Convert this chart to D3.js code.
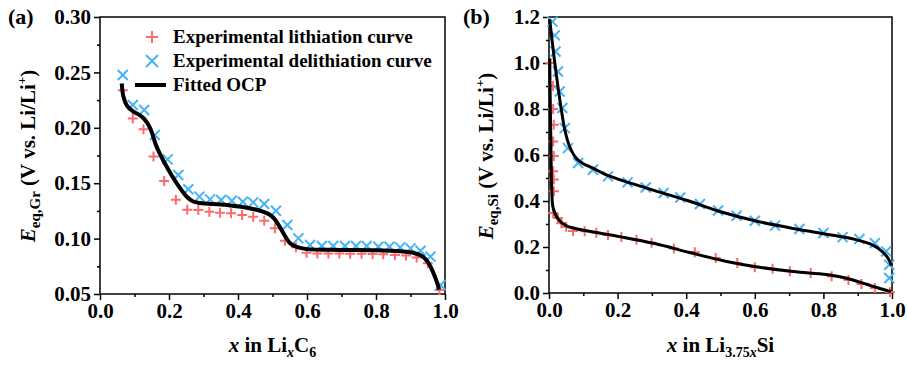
<!DOCTYPE html>
<html>
<head>
<meta charset="utf-8">
<script src="https://cdn.jsdelivr.net/npm/d3@7"></script>
<style>
  body { margin: 0; background: #fff; }
  svg { font-family: "Liberation Serif", "Times New Roman", serif; font-weight: bold; }
</style>
</head>
<body>
<svg id="chart" width="907" height="368"></svg>
<script>
// ---- panel (a): graphite ----
const grLith = [
  [0.066,0.234],[0.095,0.2085],[0.126,0.1986],[0.155,0.174],[0.186,0.152],[0.220,0.135],
  [0.253,0.126],[0.285,0.1258],[0.317,0.1243],[0.348,0.1234],[0.380,0.1228],[0.412,0.1213],
  [0.444,0.1198],[0.476,0.1162],[0.507,0.1093],[0.536,0.0981],[0.568,0.0921],[0.599,0.0873],
  [0.630,0.0866],[0.662,0.0866],[0.694,0.0866],[0.725,0.0864],[0.758,0.0864],[0.790,0.0862],
  [0.821,0.0858],[0.855,0.0852],[0.887,0.0848],[0.918,0.0830],[0.950,0.0777],[0.984,0.0536]
];
const grDelith = [
  [0.066,0.2477],[0.095,0.2206],[0.128,0.2161],[0.159,0.1935],[0.196,0.1715],[0.227,0.1574],
  [0.256,0.1445],[0.288,0.1379],[0.319,0.1354],[0.351,0.1348],[0.382,0.1342],[0.414,0.1333],
  [0.444,0.1327],[0.476,0.1312],[0.510,0.1252],[0.543,0.1123],[0.575,0.1002],[0.609,0.0942],
  [0.643,0.0933],[0.676,0.0933],[0.710,0.0933],[0.742,0.0933],[0.773,0.0933],[0.807,0.0927],
  [0.839,0.0927],[0.870,0.0921],[0.900,0.0912],[0.929,0.0891],[0.958,0.0837],[0.987,0.0581]
];
const grFit = [
  [0.063,0.240],[0.068,0.228],[0.078,0.220],[0.097,0.2145],[0.115,0.2115],[0.128,0.208],
  [0.145,0.200],[0.164,0.183],[0.193,0.165],[0.222,0.150],[0.251,0.138],[0.27,0.1335],
  [0.29,0.1322],[0.367,0.1303],[0.44,0.127],[0.47,0.1245],[0.49,0.122],[0.505,0.118],
  [0.52,0.111],[0.535,0.103],[0.55,0.096],[0.57,0.0925],[0.6,0.0905],[0.7,0.0898],
  [0.8,0.0895],[0.87,0.0885],[0.91,0.087],[0.935,0.084],[0.952,0.078],[0.965,0.070],
  [0.975,0.062],[0.983,0.054]
];
const grYTicks = [0.05, 0.10, 0.15, 0.20, 0.25, 0.30];
const grYMinor = [0.075, 0.125, 0.175, 0.225, 0.275];

// ---- panel (b): silicon ----
const siLith = [
  [0.004,1.0],[0.012,0.9],[0.012,0.8],[0.014,0.732],[0.012,0.659],[0.014,0.596],[0.012,0.529],
  [0.014,0.493],[0.014,0.442],[0.012,0.348],[0.026,0.326],[0.036,0.303],[0.05,0.288],
  [0.07,0.27],[0.104,0.268],[0.138,0.262],[0.172,0.252],[0.211,0.243],[0.255,0.232],
  [0.299,0.219],[0.364,0.194],[0.425,0.177],[0.486,0.152],[0.549,0.130],[0.600,0.112],
  [0.652,0.105],[0.702,0.095],[0.763,0.087],[0.824,0.073],[0.873,0.056],[0.911,0.039],
  [0.950,0.022],[0.994,0.003]
];
const siDelith = [
  [0.010,1.18],[0.017,1.12],[0.019,1.05],[0.026,0.963],[0.031,0.876],[0.039,0.804],
  [0.046,0.717],[0.055,0.63],[0.085,0.565],[0.128,0.536],[0.172,0.507],[0.229,0.481],
  [0.282,0.459],[0.334,0.435],[0.383,0.415],[0.44,0.387],[0.493,0.359],[0.547,0.336],
  [0.600,0.314],[0.659,0.293],[0.73,0.278],[0.80,0.261],[0.856,0.243],[0.905,0.235],
  [0.95,0.217],[0.983,0.181],[0.992,0.123],[0.992,0.065]
];
const siFitDelith = [
  [0.002,1.19],[0.012,1.06],[0.022,0.942],[0.036,0.797],[0.046,0.71],[0.06,0.637],
  [0.08,0.585],[0.10,0.562],[0.128,0.543],[0.162,0.517],[0.206,0.493],[0.25,0.472],
  [0.308,0.445],[0.406,0.401],[0.503,0.352],[0.6,0.314],[0.697,0.285],[0.795,0.259],
  [0.892,0.233],[0.941,0.210],[0.97,0.182],[0.989,0.150],[0.998,0.12]
];
const siFitLith = [
  [0.002,1.02],[0.004,0.8],[0.006,0.6],[0.008,0.45],[0.012,0.37],[0.026,0.322],
  [0.051,0.292],[0.09,0.276],[0.150,0.260],[0.206,0.245],[0.308,0.215],[0.41,0.176],
  [0.518,0.137],[0.6,0.115],[0.712,0.093],[0.809,0.080],[0.868,0.064],[0.926,0.038],
  [0.96,0.022],[0.997,0.006]
];
const siYTicks = [0.0, 0.2, 0.4, 0.6, 0.8, 1.0, 1.2];
const siYMinor = [0.1, 0.3, 0.5, 0.7, 0.9, 1.1];

const xTicks = [0.0, 0.2, 0.4, 0.6, 0.8, 1.0];
const xMinor = [0.1, 0.3, 0.5, 0.7, 0.9];

const legendLabels = ['Experimental lithiation curve', 'Experimental delithiation curve', 'Fitted OCP'];

const red = '#fb6b6b', blue = '#45b4f4';
const svg = d3.select('#chart');

function plus(g, x, y, s, c) {
  g.append('path').attr('d', `M${x - s},${y}H${x + s}M${x},${y - s}V${y + s}`)
    .attr('stroke', c).attr('stroke-width', 2).attr('fill', 'none');
}
function cross(g, x, y, s, c) {
  g.append('path').attr('d', `M${x - s},${y - s}L${x + s},${y + s}M${x - s},${y + s}L${x + s},${y - s}`)
    .attr('stroke', c).attr('stroke-width', 2).attr('fill', 'none');
}

function panel(p) {
  const x = d3.scaleLinear().domain([0, 1]).range([p.left, p.right]);
  const y = d3.scaleLinear().domain(p.yDomain).range([p.bottom, p.top]);
  const g = svg.append('g');

  // axes
  const ax = (gen) => g.append('g').call(gen).call(s => s.select('.domain').remove());
  ax(d3.axisBottom(x).tickValues(xTicks).tickSize(6).tickPadding(3).tickFormat(d3.format('.1f')))
    .attr('transform', `translate(0,${p.bottom})`);
  ax(d3.axisBottom(x).tickValues(xMinor).tickSize(3).tickFormat(''))
    .attr('transform', `translate(0,${p.bottom})`);
  ax(d3.axisLeft(y).tickValues(p.yTicks).tickSize(6).tickPadding(3).tickFormat(d3.format(p.fmt)))
    .attr('transform', `translate(${p.left},0)`);
  ax(d3.axisLeft(y).tickValues(p.yMinor).tickSize(3).tickFormat(''))
    .attr('transform', `translate(${p.left},0)`);
  g.selectAll('.tick line').attr('stroke', '#000').attr('stroke-width', 1.5);
  g.selectAll('.tick text').attr('font-family', '"Liberation Serif", serif')
    .attr('font-weight', 'bold').attr('font-size', 21).attr('fill', '#000');

  g.append('rect').attr('x', p.left).attr('y', p.top)
    .attr('width', p.right - p.left).attr('height', p.bottom - p.top)
    .attr('fill', 'none').attr('stroke', '#000').attr('stroke-width', 1.5);

  // markers
  const mk = g.append('g');
  p.lith.forEach(d => plus(mk, x(d[0]), y(d[1]), 5, red));
  p.delith.forEach(d => cross(mk, x(d[0]), y(d[1]), 5, blue));

  const line = d3.line().x(d => x(d[0])).y(d => y(d[1])).curve(d3.curveCatmullRom.alpha(0.5));
  p.fits.forEach(f => g.append('path').datum(f).attr('d', line)
    .attr('fill', 'none').attr('stroke', '#000').attr('stroke-width', p.lw));

  // panel tag
  g.append('text').attr('x', p.tagX).attr('y', 24).attr('font-size', 22).text(p.tag);

  // y title
  const yt = g.append('text').attr('transform', `translate(${p.yTitleX},156) rotate(-90)`)
    .attr('text-anchor', 'middle').attr('font-size', 21);
  yt.append('tspan').attr('font-style', 'italic').text('E');
  yt.append('tspan').attr('font-size', 15).attr('dy', 5).text(p.sub);
  yt.append('tspan').attr('dy', -5).text(' (V vs. Li/Li');
  yt.append('tspan').attr('font-size', 13).attr('dy', -9).text('+');
  yt.append('tspan').attr('dy', 9).text(')');

  // x title
  const xt = g.append('text').attr('x', (p.left + p.right) / 2).attr('y', 352)
    .attr('text-anchor', 'middle').attr('font-size', 21);
  xt.append('tspan').attr('font-style', 'italic').text('x');
  xt.append('tspan').text(' in Li');
  p.xSub(xt);
  return { x, y, g };
}

panel({
  left: 100, right: 445, top: 17, bottom: 294, yDomain: [0.05, 0.30],
  yTicks: grYTicks, yMinor: grYMinor, fmt: '.2f',
  lith: grLith, delith: grDelith, fits: [grFit], lw: 4,
  tag: '(a)', tagX: 8, yTitleX: 35, sub: 'eq,Gr',
  xSub: t => {
    t.append('tspan').attr('font-size', 14).attr('dy', 5).attr('font-style', 'italic').text('x');
    t.append('tspan').attr('dy', -5).text('C');
    t.append('tspan').attr('font-size', 14).attr('dy', 5).text('6');
  }
});

panel({
  left: 549, right: 892, top: 17, bottom: 293, yDomain: [0, 1.2],
  yTicks: siYTicks, yMinor: siYMinor, fmt: '.1f',
  lith: siLith, delith: siDelith, fits: [siFitDelith, siFitLith], lw: 3,
  tag: '(b)', tagX: 463, yTitleX: 493, sub: 'eq,Si',
  xSub: t => {
    t.append('tspan').attr('font-size', 14).attr('dy', 5).text('3.75');
    t.append('tspan').attr('font-size', 14).attr('font-style', 'italic').text('x');
    t.append('tspan').attr('dy', -5).text('Si');
  }
});

// legend (panel a)
const lg = svg.append('g');
const rows = [37, 61, 85];
plus(lg, 152, rows[0], 6, red);
cross(lg, 152, rows[1], 6, blue);
lg.append('line').attr('x1', 135).attr('x2', 166).attr('y1', rows[2]).attr('y2', rows[2])
  .attr('stroke', '#000').attr('stroke-width', 4);
legendLabels.forEach((t, i) => lg.append('text').attr('x', 173).attr('y', rows[i] + 6)
  .attr('font-size', 19).text(t));
</script>
</body>
</html>
